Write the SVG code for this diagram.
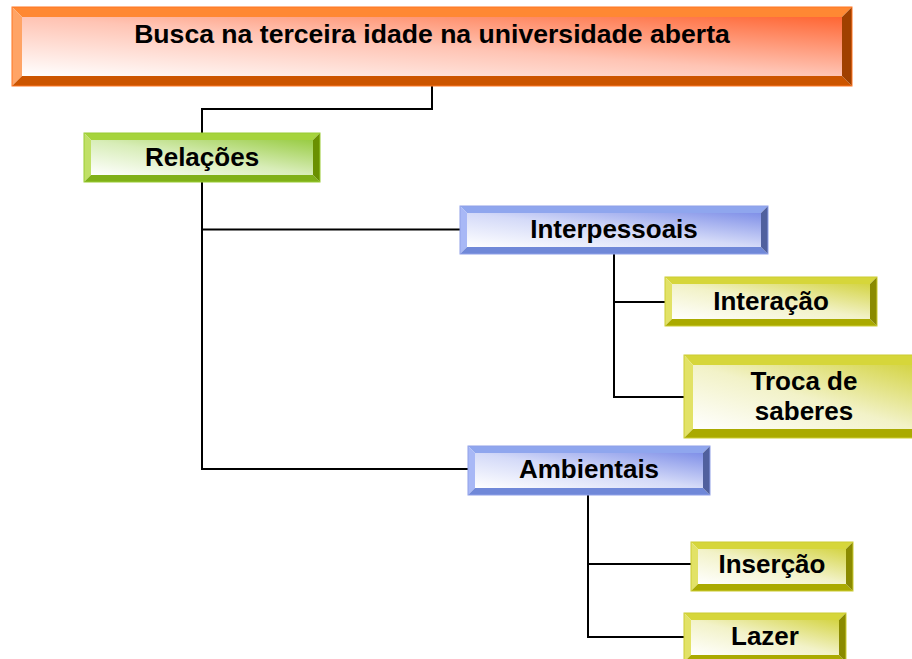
<svg xmlns="http://www.w3.org/2000/svg" width="912" height="659" viewBox="0 0 912 659">
<defs>
<linearGradient id="gO" x1="0" y1="1" x2="1" y2="0"><stop offset="0" stop-color="#FFFFFF"/><stop offset="0.5" stop-color="#FFC4B4"/><stop offset="1" stop-color="#FF6633"/></linearGradient>
<linearGradient id="gG" x1="0" y1="1" x2="1" y2="0"><stop offset="0" stop-color="#FFFFFF"/><stop offset="0.5" stop-color="#D8EDB8"/><stop offset="1" stop-color="#99CC44"/></linearGradient>
<linearGradient id="gB" x1="0" y1="1" x2="1" y2="0"><stop offset="0" stop-color="#FFFFFF"/><stop offset="0.5" stop-color="#D4DAF8"/><stop offset="1" stop-color="#8090E8"/></linearGradient>
<linearGradient id="gY" x1="0" y1="1" x2="1" y2="0"><stop offset="0" stop-color="#FFFFFF"/><stop offset="0.5" stop-color="#F2F2C8"/><stop offset="1" stop-color="#D4D444"/></linearGradient>
</defs>
<style>
text{font-family:"Liberation Sans",Arial,sans-serif;font-weight:bold;font-size:26px;fill:#000;text-anchor:middle}
.conn{fill:none;stroke:#000;stroke-width:2}
.o .t{fill:#FF8833}.o .l{fill:#FFA466}.o .b{fill:#CC5500}.o .r{fill:#A04000}.o .f{fill:url(#gO)}.o .e{fill:none;stroke:#FF7722;stroke-width:1}
.g .t{fill:#A6D43C}.g .l{fill:#C0E066}.g .b{fill:#80B018}.g .r{fill:#6A9000}.g .f{fill:url(#gG)}.g .e{fill:none;stroke:#99CC33;stroke-width:1}
.bl .t{fill:#8FA6EE}.bl .l{fill:#A8B8F6}.bl .b{fill:#7088D8}.bl .r{fill:#50609E}.bl .f{fill:url(#gB)}.bl .e{fill:none;stroke:#8FA0E8;stroke-width:1}
.y .t{fill:#D6D63A}.y .l{fill:#E2E266}.y .b{fill:#AAAA00}.y .r{fill:#8A8A00}.y .f{fill:url(#gY)}.y .e{fill:none;stroke:#CCCC33;stroke-width:1}
</style>
<g id="connectors">
<path class="conn" d="M432,86 V109 H202 V133"/>
<path class="conn" d="M202,182 V469 H468 M202,229.5 H460"/>
<path class="conn" d="M614,254 V397 H684 M614,302 H665"/>
<path class="conn" d="M588,495 V637 H684 M588,564 H691"/>
</g>
<g id="n-busca" class="o">
<polygon class="t" points="12,7 852,7 842,17 22,17"/>
<polygon class="l" points="12,7 22,17 22,76 12,86"/>
<polygon class="b" points="12,86 22,76 842,76 852,86"/>
<polygon class="r" points="852,7 852,86 842,76 842,17"/>
<rect class="f" x="22" y="17" width="820" height="59"/>
<rect class="e" x="12" y="7" width="840" height="79"/>
<text x="432" y="43" style="font-size:26.6px">Busca na terceira idade na universidade aberta</text>
</g>
<g id="n-relacoes" class="g">
<polygon class="t" points="84,133 320,133 313,140 91,140"/>
<polygon class="l" points="84,133 91,140 91,175 84,182"/>
<polygon class="b" points="84,182 91,175 313,175 320,182"/>
<polygon class="r" points="320,133 320,182 313,175 313,140"/>
<rect class="f" x="91" y="140" width="222" height="35"/>
<rect class="e" x="84" y="133" width="236" height="49"/>
<text x="202" y="166">Relações</text>
</g>
<g id="n-interpessoais" class="bl">
<polygon class="t" points="460,206 768,206 761,213 467,213"/>
<polygon class="l" points="460,206 467,213 467,247 460,254"/>
<polygon class="b" points="460,254 467,247 761,247 768,254"/>
<polygon class="r" points="768,206 768,254 761,247 761,213"/>
<rect class="f" x="467" y="213" width="294" height="34"/>
<rect class="e" x="460" y="206" width="308" height="48"/>
<text x="614" y="238">Interpessoais</text>
</g>
<g id="n-interacao" class="y">
<polygon class="t" points="665,277 877,277 870,284 672,284"/>
<polygon class="l" points="665,277 672,284 672,319 665,326"/>
<polygon class="b" points="665,326 672,319 870,319 877,326"/>
<polygon class="r" points="877,277 877,326 870,319 870,284"/>
<rect class="f" x="672" y="284" width="198" height="35"/>
<rect class="e" x="665" y="277" width="212" height="49"/>
<text x="771" y="310">Interação</text>
</g>
<g id="n-troca" class="y">
<polygon class="t" points="684,355 924,355 915,365 693,365"/>
<polygon class="l" points="684,355 693,365 693,429 684,438"/>
<polygon class="b" points="684,438 693,429 915,429 924,438"/>
<polygon class="r" points="924,355 924,438 915,429 915,365"/>
<rect class="f" x="693" y="365" width="222" height="64"/>
<rect class="e" x="684" y="355" width="240" height="83"/>
<text x="804" y="390">Troca de</text>
<text x="804" y="420">saberes</text>
</g>
<g id="n-ambientais" class="bl">
<polygon class="t" points="468,446 710,446 703,453 475,453"/>
<polygon class="l" points="468,446 475,453 475,488 468,495"/>
<polygon class="b" points="468,495 475,488 703,488 710,495"/>
<polygon class="r" points="710,446 710,495 703,488 703,453"/>
<rect class="f" x="475" y="453" width="228" height="35"/>
<rect class="e" x="468" y="446" width="242" height="49"/>
<text x="589" y="478">Ambientais</text>
</g>
<g id="n-insercao" class="y">
<polygon class="t" points="691,542 853,542 846,549 698,549"/>
<polygon class="l" points="691,542 698,549 698,584 691,591"/>
<polygon class="b" points="691,591 698,584 846,584 853,591"/>
<polygon class="r" points="853,542 853,591 846,584 846,549"/>
<rect class="f" x="698" y="549" width="148" height="35"/>
<rect class="e" x="691" y="542" width="162" height="49"/>
<text x="772" y="573">Inserção</text>
</g>
<g id="n-lazer" class="y">
<polygon class="t" points="684,613 846,613 839,620 691,620"/>
<polygon class="l" points="684,613 691,620 691,655 684,662"/>
<polygon class="b" points="684,662 691,655 839,655 846,662"/>
<polygon class="r" points="846,613 846,662 839,655 839,620"/>
<rect class="f" x="691" y="620" width="148" height="35"/>
<rect class="e" x="684" y="613" width="162" height="49"/>
<text x="765" y="645">Lazer</text>
</g>
</svg>
